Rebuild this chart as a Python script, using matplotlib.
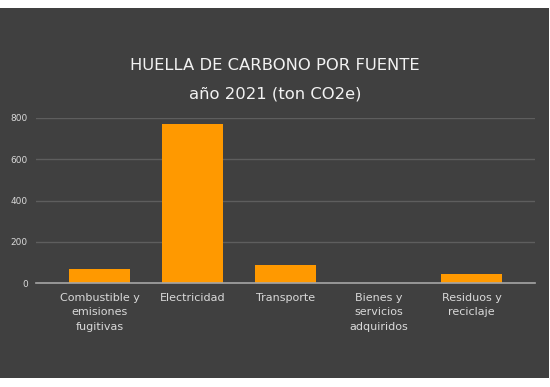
import matplotlib.pyplot as plt
from matplotlib.patches import Rectangle

categorias = ['Combustible y\nemisiones\nfugitivas', 'Electricidad', 'Transporte',
              'Bienes y\nservicios\nadquiridos', 'Residuos y\nreciclaje']
valores = [69, 768, 88, 0, 45]
yticks = [0, 200, 400, 600, 800]

fondo = '#404040'
naranja = '#ff9900'
texto = '#d9d9d9'

fig = plt.figure(figsize=(5.5, 3.87), dpi=100, facecolor='white')
# panel oscuro con borde blanco arriba y abajo
fig.patches.append(Rectangle((0, 9 / 387), 549 / 550, 370 / 387,
                             transform=fig.transFigure, facecolor=fondo, edgecolor='none', zorder=-5))

ax = fig.add_axes([36 / 550, 1 - 283.3 / 387, 499 / 550, (283.3 - 117.7) / 387])
ax.set_facecolor('none')

x = list(range(len(categorias)))
ax.bar(x, valores, width=0.656, color=naranja, zorder=3)

ax.set_xlim(-0.683, 4.683)
ax.set_ylim(0, 800)
ax.set_yticks(yticks)
ax.set_xticks(x)
ax.set_xticklabels(categorias, fontsize=8, color=texto, linespacing=1.55)
ax.tick_params(axis='y', labelsize=6.5, colors=texto, length=0, pad=6)
ax.tick_params(axis='x', length=0, pad=7)

ax.grid(axis='y', color='#5e5e5e', linewidth=1, zorder=0)
for s in ['top', 'right', 'left']:
    ax.spines[s].set_visible(False)
ax.spines['bottom'].set_color('#a6a6a6')
ax.spines['bottom'].set_linewidth(1.2)
ax.spines['bottom'].set_zorder(4)

fig.text(0.5, 1 - 66 / 387, 'HUELLA DE CARBONO POR FUENTE', ha='center', va='center',
         fontsize=11.8, color='#f2f2f2')
fig.text(0.5, 1 - 94 / 387, 'año 2021 (ton CO2e)', ha='center', va='center',
         fontsize=11.8, color='#f2f2f2')

fig.savefig('out.png', dpi=100, facecolor='white')
